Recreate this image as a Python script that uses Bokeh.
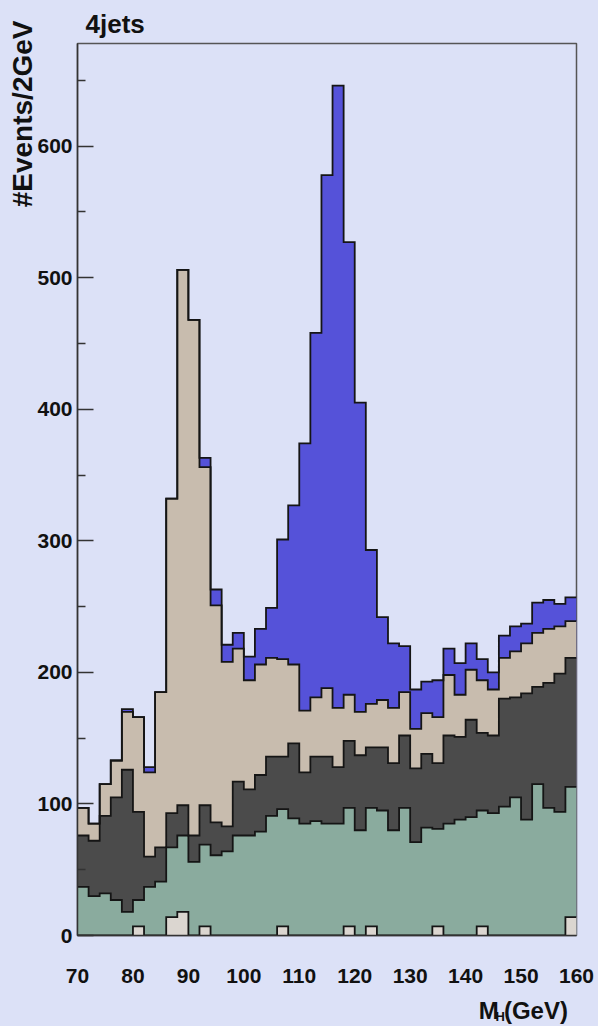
import numpy as np
from bokeh.plotting import figure
from bokeh.layouts import column
from bokeh.models import Range1d, FixedTicker, Label, Title
from bokeh.embed import file_html
from bokeh.resources import INLINE

# ---- data: events per 2 GeV bin, 70..160 GeV (45 bins), stacked bottom -> top
mass_edges = list(range(70, 161, 2))

layer_light = [0, 0, 0, 0, 0, 7, 0, 0, 14, 18, 0, 7, 0, 0, 0, 0, 0, 0, 7, 0, 0, 0, 0,
               0, 7, 0, 7, 0, 0, 0, 0, 0, 7, 0, 0, 0, 7, 0, 0, 0, 0, 0, 0, 0, 14]
layer_green = [37, 30, 32, 27, 18, 20, 37, 41, 53, 58, 56, 62, 61, 64, 76, 76, 79, 91, 89,
               89, 85, 87, 85, 85, 90, 80, 90, 95, 80, 97, 71, 82, 74, 85, 88, 90, 88, 93,
               98, 105, 88, 115, 97, 94, 99]
layer_dark = [39, 42, 59, 78, 108, 67, 23, 26, 26, 23, 20, 30, 25, 19, 41, 35, 43, 45, 40,
              57, 39, 49, 51, 43, 51, 57, 46, 48, 51, 55, 56, 56, 50, 67, 63, 74, 59, 59,
              82, 76, 96, 74, 95, 105, 98]
layer_tan = [21, 13, 24, 28, 44, 72, 64, 118, 239, 407, 392, 257, 165, 125, 101, 83, 84, 75,
             74, 60, 47, 45, 52, 45, 35, 33, 33, 36, 42, 33, 30, 31, 35, 46, 32, 38, 40, 35,
             31, 35, 38, 41, 41, 36, 28]
layer_signal = [0, 0, 0, 0, 2, 0, 4, 0, 0, 0, 0, 7, 12, 13, 12, 18, 27, 38, 91, 121, 203,
                277, 390, 473, 344, 235, 117, 63, 49, 35, 30, 24, 28, 20, 24, 20, 16, 13, 17,
                19, 15, 23, 22, 17, 18]

x_tick_values = [70, 80, 90, 100, 110, 120, 130, 140, 150, 160]
y_tick_values = [0, 100, 200, 300, 400, 500, 600]
y_minor_values = [50, 150, 250, 350, 450, 550, 650]

layer_colors = ["#dbd6d0", "#8aab9e", "#4b4b4b", "#c8bcae", "#5552d9"]
bg = "#dce1f7"
font = "Liberation Sans"
ink = "#111111"

p = figure(frame_width=499, frame_height=892,
           x_range=Range1d(70, 160), y_range=Range1d(0, 678),
           output_backend="svg", toolbar_location=None,
           min_border_left=77, min_border_right=22, min_border_top=43, min_border_bottom=59,
           background_fill_color=bg, border_fill_color=bg)
p.grid.visible = False
p.outline_line_color = "#555555"
p.outline_line_width = 1.5

stack = np.cumsum(np.array([layer_light, layer_green, layer_dark, layer_tan, layer_signal],
                           dtype=float), axis=0)


def step_path(vals):
    xs, ys = [], []
    for i, v in enumerate(vals):
        xs += [mass_edges[i], mass_edges[i + 1]]
        ys += [v, v]
    return xs, ys


# fills, from the top of the stack downwards
for k in range(4, -1, -1):
    xs, ys = step_path(stack[k])
    p.patch([mass_edges[0]] + xs + [mass_edges[-1]], [0] + ys + [0],
            fill_color=layer_colors[k], line_color=None)

# outlines
for k in range(4, -1, -1):
    xs, ys = step_path(stack[k])
    p.line(xs, ys, line_color="#151515", line_width=1.8, line_join="miter")

# axes
p.xaxis.ticker = FixedTicker(ticks=x_tick_values)
p.xaxis.major_tick_in = 0
p.xaxis.major_tick_out = 0
p.xaxis.minor_tick_in = 0
p.xaxis.minor_tick_out = 0
p.xaxis.major_label_standoff = 33
p.xaxis.axis_line_color = "#333333"
p.xaxis.axis_line_width = 1.5

p.yaxis.ticker = FixedTicker(ticks=y_tick_values, minor_ticks=y_minor_values)
p.yaxis.major_tick_in = 16
p.yaxis.major_tick_out = 0
p.yaxis.minor_tick_in = 8
p.yaxis.minor_tick_out = 0
p.yaxis.major_label_standoff = 5
p.yaxis.axis_line_color = "#333333"
p.yaxis.axis_line_width = 1.5
p.yaxis.major_tick_line_color = "#333333"
p.yaxis.minor_tick_line_color = "#333333"
p.yaxis.major_tick_line_width = 1.5
p.yaxis.minor_tick_line_width = 1.5

for ax in (p.xaxis, p.yaxis):
    ax.major_label_text_font = font
    ax.major_label_text_font_style = "bold"
    ax.major_label_text_font_size = "21px"
    ax.major_label_text_color = ink

# title "4jets"
p.title.text = "4jets"
p.title.align = "left"
p.title.offset = 8
p.title.standoff = 10
p.title.text_font = font
p.title.text_font_style = "bold"
p.title.text_font_size = "26px"
p.title.text_color = ink

# y label as a side title, aligned to the top end
ylab = Title(text="#Events/2GeV", align="right", offset=-23, text_font=font,
             text_font_style="bold", text_font_size="28px", text_color=ink)
try:
    ylab.standoff = -6
except Exception:
    ylab.standoff = 0
p.add_layout(ylab, "left")

# strip under the plot carrying the x-axis label M_H(GeV)
q = figure(width=598, height=40, x_range=Range1d(0, 598), y_range=Range1d(0, 40),
           output_backend="svg", toolbar_location=None, min_border=0, title=None,
           x_axis_type=None, y_axis_type=None,
           background_fill_color=bg, border_fill_color=bg)
q.grid.visible = False
q.outline_line_color = None
try:
    q.margin = (-8, 0, 0, 0)
except Exception:
    pass


def strip_text(txt, x, y, size):
    q.add_layout(Label(x=x, y=y, text=txt, text_font=font, text_font_style="bold",
                       text_font_size=size, text_color=ink, text_align="left",
                       text_baseline="alphabetic"))


strip_text("M", 481, 16, "24px")
strip_text("H", 501, 10, "13px")
strip_text("(GeV)", 511, 16, "24px")

layout = column(p, q, spacing=0)

html = file_html(layout, INLINE).replace(
    "</head>", "<style>html, body { background-color: %s; }</style></head>" % bg)
open("out.html", "w").write(html)
